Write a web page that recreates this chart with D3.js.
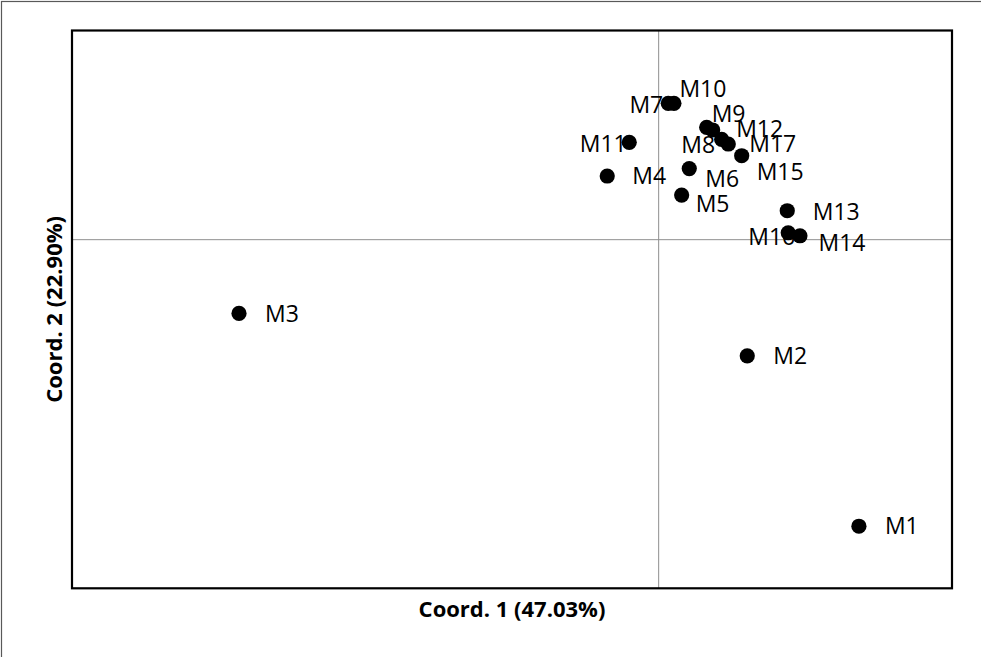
<!DOCTYPE html>
<html>
<head>
<meta charset="utf-8">
<script src="https://cdn.jsdelivr.net/npm/d3@7"></script>
<style>
  html, body { margin: 0; padding: 0; background: #fff; }
  svg { display: block; }
</style>
</head>
<body>
<svg id="chart" width="981" height="657"></svg>
<script>
// Sample names and their principal-coordinate scores
const samples = ["M1","M2","M3","M4","M5","M6","M7","M8","M9","M10","M11","M12","M13","M14","M15","M16","M17"];
const coord1 = [0.2048, 0.0906, -0.4292, -0.0526, 0.0235, 0.0313, 0.0098, 0.0644, 0.0491, 0.0156, -0.0301, 0.0552, 0.1315, 0.1445, 0.0849, 0.1325, 0.0712];
const coord2 = [-0.4110, -0.1666, -0.1058, 0.0913, 0.0640, 0.1020, 0.1956, 0.1439, 0.1611, 0.1956, 0.1396, 0.1573, 0.0415, 0.0056, 0.1204, 0.0099, 0.1372];

// Axis titles (variance explained)
const xTitle = "Coord. 1 (47.03%)";
const yTitle = "Coord. 2 (22.90%)";

// Label placement relative to each marker: [dx, dy, anchor]
const labelPlacement = {
  M1: [26, 0, "start"],  M2: [26, 0, "start"],  M3: [26, 0, "start"],
  M4: [25, 0, "start"],  M5: [14, 9, "start"],  M6: [16, 10.5, "start"],
  M7: [-5, 1.5, "end"],  M8: [-6.5, 5.5, "end"], M9: [5, -14, "start"],
  M10: [5.5, -14.5, "start"], M11: [-2.5, 1, "end"], M12: [23.5, -1.5, "start"],
  M13: [25.5, 1, "start"], M14: [18.5, 7.5, "start"], M15: [15, 16, "start"],
  M16: [-40, 4, "start"], M17: [21, -0.5, "start"]
};

const svg = d3.select("#chart");
const W = 981, H = 657;
const plot = { left: 72, top: 30.5, right: 952, bottom: 588.3 };

const x = d3.scaleLinear().domain([-0.6, 0.3]).range([plot.left, plot.right]);
const y = d3.scaleLinear().domain([0.3, -0.5]).range([plot.top, plot.bottom]);

// Outer frame
svg.append("rect")
  .attr("x", 1.5).attr("y", 1.5)
  .attr("width", W + 10).attr("height", H + 10)
  .attr("fill", "none").attr("stroke", "#595959").attr("stroke-width", 1.2);

// Zero lines
svg.append("line")
  .attr("x1", x(0)).attr("x2", x(0))
  .attr("y1", plot.top).attr("y2", plot.bottom)
  .attr("stroke", "#8f8f8f").attr("stroke-width", 1);
svg.append("line")
  .attr("x1", plot.left).attr("x2", plot.right)
  .attr("y1", y(0)).attr("y2", y(0))
  .attr("stroke", "#8f8f8f").attr("stroke-width", 1);

// Plot frame
svg.append("rect")
  .attr("x", plot.left).attr("y", plot.top)
  .attr("width", plot.right - plot.left).attr("height", plot.bottom - plot.top)
  .attr("fill", "none").attr("stroke", "#000").attr("stroke-width", 2.2);

const data = samples.map((s, i) => ({ name: s, c1: coord1[i], c2: coord2[i] }));

const fontSize = 23;
// Labels
svg.append("g").selectAll("text")
  .data(data).join("text")
  .attr("x", d => x(d.c1) + labelPlacement[d.name][0])
  .attr("y", d => y(d.c2) + labelPlacement[d.name][1] + fontSize * 0.357)
  .attr("text-anchor", d => labelPlacement[d.name][2])
  .attr("font-family", "'Open Sans', sans-serif")
  .attr("font-size", fontSize)
  .attr("fill", "#000")
  .text(d => d.name);

// Markers
svg.append("g").selectAll("circle")
  .data(data).join("circle")
  .attr("cx", d => x(d.c1))
  .attr("cy", d => y(d.c2))
  .attr("r", 7.6)
  .attr("fill", "#000");

// Axis titles
svg.append("text")
  .attr("x", (plot.left + plot.right) / 2)
  .attr("y", 617)
  .attr("text-anchor", "middle")
  .attr("font-family", "'Open Sans', sans-serif")
  .attr("font-weight", "bold")
  .attr("font-size", 22)
  .text(xTitle);

svg.append("text")
  .attr("transform", `translate(62, ${(plot.top + plot.bottom) / 2}) rotate(-90)`)
  .attr("text-anchor", "middle")
  .attr("font-family", "'Open Sans', sans-serif")
  .attr("font-weight", "bold")
  .attr("font-size", 22)
  .text(yTitle);
</script>
</body>
</html>
